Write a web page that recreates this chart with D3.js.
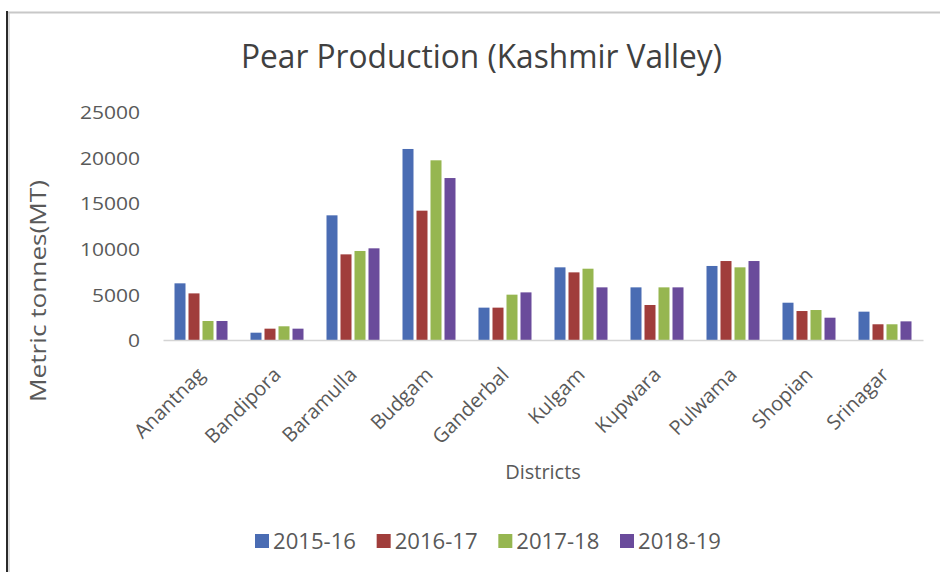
<!DOCTYPE html>
<html><head><meta charset="utf-8">
<script src="https://cdn.jsdelivr.net/npm/d3@7"></script>
<style>html,body{margin:0;padding:0;background:#fff;} svg{display:block;}</style>
</head><body>
<script>
const districts = ["Anantnag","Bandipora","Baramulla","Budgam","Ganderbal","Kulgam","Kupwara","Pulwama","Shopian","Srinagar"];
const seriesNames = ["2015-16","2016-17","2017-18","2018-19"];
const v2015 = [6200, 800, 13640, 20900, 3540, 7950, 5760, 8100, 4080, 3100];
const v2016 = [5100, 1240, 9370, 14150, 3540, 7400, 3830, 8640, 3170, 1720];
const v2017 = [2080, 1500, 9740, 19660, 4960, 7800, 5760, 7950, 3280, 1720];
const v2018 = [2080, 1240, 10030, 17720, 5210, 5760, 5760, 8640, 2440, 2040];
const yTicks = [0, 5000, 10000, 15000, 20000, 25000];
const colors = ["#4a6cb3", "#a03d3b", "#96b650", "#6a4b9b"];
const seriesValues = [v2015, v2016, v2017, v2018];

const W = 940, H = 572;
const svg = d3.select("body").append("svg").attr("width", W).attr("height", H);
const font = "'Open Sans', sans-serif";

// frame lines
svg.append("line").attr("x1", 8).attr("x2", W).attr("y1", 12.5).attr("y2", 12.5)
  .attr("stroke", "#c8c8c8").attr("stroke-width", 2);
svg.append("line").attr("x1", 7).attr("x2", 7).attr("y1", 11).attr("y2", H)
  .attr("stroke", "#2a2a2a").attr("stroke-width", 2);
svg.append("line").attr("x1", 9).attr("x2", 9).attr("y1", 13).attr("y2", H)
  .attr("stroke", "#d0d0d0").attr("stroke-width", 1.5);

const x0 = d3.scaleBand().domain(districts).range([163, 923]).paddingInner(0.3026).paddingOuter(0.1513);
const x1 = d3.scaleBand().domain(seriesNames).range([0, x0.bandwidth()]).paddingInner(3/14).paddingOuter(0);
const y = d3.scaleLinear().domain([0, 25000]).range([340, 111.5]);

// title
svg.append("text").attr("x", 241).attr("y", 68).attr("font-family", font).attr("font-size", 32)
  .attr("fill", "#404040").attr("textLength", 481).attr("lengthAdjust", "spacingAndGlyphs")
  .text("Pear Production (Kashmir Valley)");

// y axis labels
const yAxis = d3.axisLeft(y).tickValues(yTicks).tickSize(0).tickPadding(0).tickFormat(d3.format("d"));
const gy = svg.append("g").attr("transform", "translate(140,0)").call(yAxis);
gy.select(".domain").remove();
gy.selectAll("text").attr("font-family", font).attr("font-size", 19).attr("fill", "#595959")
  .attr("dy", "0.36em")
  .attr("textLength", d => String(d).length * 12).attr("lengthAdjust", "spacingAndGlyphs");

// bars
const groups = svg.append("g").selectAll("g").data(districts).join("g")
  .attr("transform", d => `translate(${x0(d)},0)`);
groups.selectAll("rect").data((d, i) => seriesNames.map((s, j) => ({s, j, v: seriesValues[j][i]})))
  .join("rect")
  .attr("x", d => x1(d.s)).attr("width", x1.bandwidth())
  .attr("y", d => y(d.v)).attr("height", d => y(0) - y(d.v))
  .attr("fill", d => colors[d.j]);

// x axis
const xAxis = d3.axisBottom(x0).tickSize(0).tickPadding(0);
const gx = svg.append("g").attr("transform", "translate(0,340)").call(xAxis);
gx.select(".domain").attr("stroke", "#d4d4d4").attr("stroke-width", 1.5);
gx.selectAll("text").attr("font-family", font).attr("font-size", 20).attr("fill", "#595959")
  .attr("text-anchor", "end").attr("dy", null).attr("y", 0)
  .attr("transform", "translate(5,36) rotate(-45)");

// axis titles
svg.append("text").attr("x", 543).attr("y", 479).attr("text-anchor", "middle")
  .attr("font-family", font).attr("font-size", 20).attr("fill", "#595959").text("Districts");
svg.append("text").attr("transform", "translate(46,291) rotate(-90)").attr("text-anchor", "middle")
  .attr("font-family", font).attr("font-size", 22).attr("fill", "#595959")
  .attr("textLength", 222).attr("lengthAdjust", "spacingAndGlyphs").text("Metric tonnes(MT)");

// legend
const lx = d3.scalePoint().domain(seriesNames).range([255, 620]);
const lg = svg.append("g").selectAll("g").data(seriesNames).join("g")
  .attr("transform", d => `translate(${lx(d)},534)`);
lg.append("rect").attr("width", 14).attr("height", 14).attr("fill", (d, i) => colors[i]);
lg.append("text").attr("x", 18).attr("y", 15).attr("font-family", font).attr("font-size", 21)
  .attr("fill", "#595959").attr("textLength", 83).attr("lengthAdjust", "spacingAndGlyphs").text(d => d);
</script>
</body></html>
